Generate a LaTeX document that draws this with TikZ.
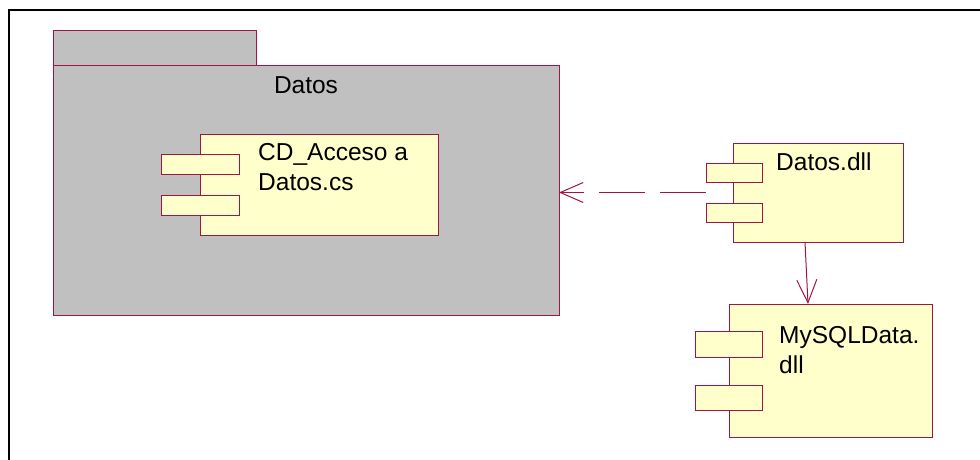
\documentclass[tikz,border=0pt]{standalone}
\usepackage{fontspec}
\setmainfont{Liberation Sans}
\usepackage{xcolor}
\usepackage{tikz}
\usetikzlibrary{arrows.meta,positioning,calc}
\definecolor{roseline}{RGB}{160,20,70}
\definecolor{rosefill}{RGB}{255,255,204}
\definecolor{pkggray}{RGB}{192,192,192}

\begin{document}
\begin{tikzpicture}[x=1pt, y=-1pt,
    compbox/.style={draw=roseline, line width=1pt, fill=rosefill, inner sep=0pt, outer sep=0pt},
    pkgbox/.style={draw=roseline, line width=1pt, fill=pkggray, inner sep=0pt, outer sep=0pt},
    comptext/.style={font=\fontsize{24.5}{30.5}\selectfont, align=left, anchor=north west, inner sep=0pt},
    depline/.style={draw=roseline, line width=1pt, -{Straight Barb[length=23pt, width=20pt]}}]
    \useasboundingbox (0,0) rectangle (980,460);
    \fill[white] (0,0) rectangle (980,460);

    % Outer frame (only top and left edges are visible)
    \draw[line width=2pt] (9,470) -- (9,10) -- (990,10);

    % Package Datos
    \node[pkgbox, minimum width=203pt, minimum height=35pt] (pkgtab) at (154.5, 48.5) {};
    \node[pkgbox, minimum width=506pt, minimum height=249pt] (pkg) at (306, 190.5) {};
    \node[font=\fontsize{24.5}{30.5}\selectfont, anchor=base, inner sep=0pt] (pkgname) at (306, 93) {Datos};

    % Component CD_Acceso a Datos.cs
    \node[compbox, minimum width=238pt, minimum height=101pt] (cd) at (319, 184.5) {};
    \node[compbox, minimum width=78pt, minimum height=20pt] (cdportA) at (200, 164) {};
    \node[compbox, minimum width=78pt, minimum height=20pt] (cdportB) at (200, 205) {};
    \node[comptext] (cdname) at (258, 143) {CD\_Acceso a\\Datos.cs};

    % Component Datos.dll
    \node[compbox, minimum width=170pt, minimum height=99pt] (dll) at (818, 192.5) {};
    \node[compbox, minimum width=56pt, minimum height=19pt] (dllportA) at (734, 172.5) {};
    \node[compbox, minimum width=56pt, minimum height=19pt] (dllportB) at (734, 212.5) {};
    \node[comptext] (dllname) at (776, 153) {Datos.dll};

    % Component MySQLData.dll
    \node[compbox, minimum width=203pt, minimum height=133pt] (mysql) at (830.5, 370.5) {};
    \node[compbox, minimum width=67pt, minimum height=26pt] (mysqlportA) at (728.5, 344) {};
    \node[compbox, minimum width=67pt, minimum height=25pt] (mysqlportB) at (728.5, 397.5) {};
    \node[comptext] (mysqlname) at (779, 326) {MySQLData.\\dll};

    % Dependencies
    \coordinate (dllout) at ($(dllportA.south west)!0.5!(dllportB.north west)$);
    \draw[depline, dash pattern=on 46pt off 15pt] (dllout) -- (dllout -| pkg.east);
    \coordinate (dlldown) at ($(dll.south west)+(72,0)$);
    \coordinate (mysqlin) at ($(mysql.north west)+(79,0)$);
    \draw[depline] (dlldown) -- (mysqlin);
\end{tikzpicture}
\end{document}
